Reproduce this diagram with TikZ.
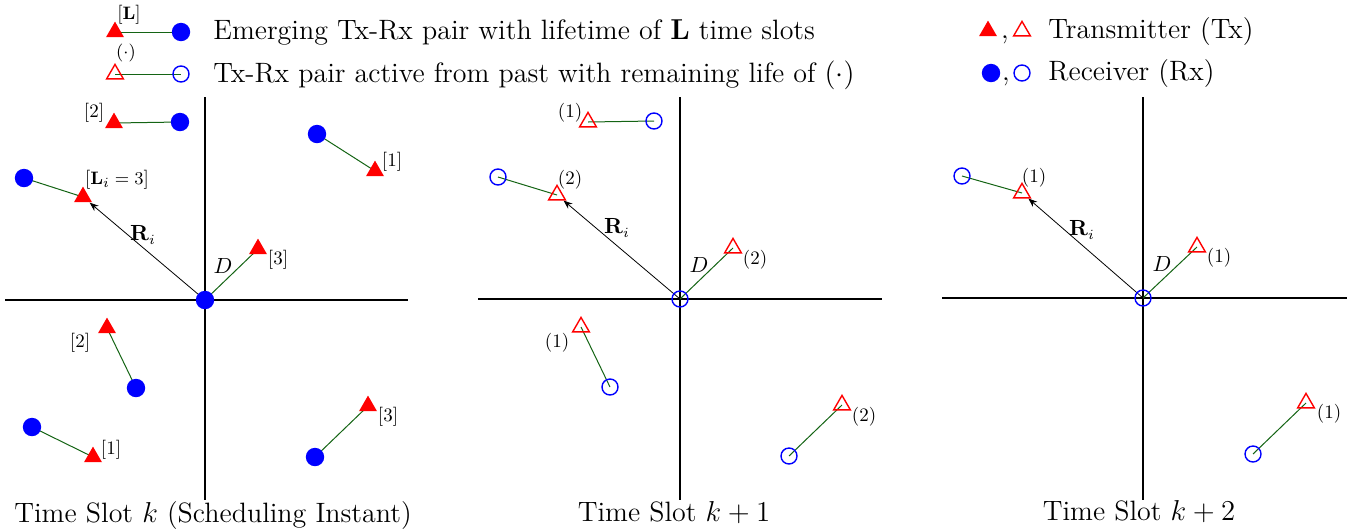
\documentclass[tikz,border=0pt]{standalone}
\usetikzlibrary{shapes.geometric,backgrounds,arrows.meta}
\definecolor{lnk}{RGB}{20,100,20}
\begin{document}
\begin{tikzpicture}[x=0.5pt,y=-0.5pt,
 rxf/.style={circle, fill=blue, minimum size=9.2pt, inner sep=0pt},
 rxo/.style={circle, draw=blue, line width=0.7pt, minimum size=8pt, inner sep=0pt},
 txf/.style={regular polygon, regular polygon sides=3, fill=red, minimum size=10.4pt, inner sep=0pt},
 txo/.style={regular polygon, regular polygon sides=3, draw=red, line width=0.7pt, minimum size=9.6pt, inner sep=0pt},
 link/.style={draw=lnk, line width=0.5pt},
 axisline/.style={line width=1.1pt},
 lbl/.style={font=\fontsize{9.5}{11}\selectfont, inner sep=0pt},
 vlbl/.style={font=\fontsize{10.5}{12}\selectfont, inner sep=0pt},
 txt/.style={font=\fontsize{14}{16}\selectfont, inner sep=0pt},
 rvec/.style={-{Stealth[length=4.5pt,width=3.4pt]}, line width=0.4pt}]
\useasboundingbox (0,0) rectangle (1364,531);
% ---------- legend ----------
\node[txf] (lt1) at (115,32) {};
\node[rxf] (lr1) at (181,32) {};
\node[lbl] (llL) at (129,15) {[$\mathbf{L}$]};
\node[txo] (lt2) at (115,74) {};
\node[rxo] (lr2) at (181,74) {};
\node[lbl] (llD) at (126,53) {$(\cdot)$};
\node[txt, anchor=base west] (leg1) at (213,39) {Emerging Tx-Rx pair with lifetime of $\mathbf{L}$ time slots};
\node[txt, anchor=base west] (leg2) at (213,82) {Tx-Rx pair active from past with remaining life of $(\cdot)$};
\node[txf] (rt1) at (988,31) {};
\node[txt, anchor=base] (cm1) at (1005,38) {,};
\node[txo] (rt2) at (1022,31) {};
\node[txt, anchor=base west] (leg3) at (1048,38) {Transmitter (Tx)};
\node[rxf] (rc1) at (991,73) {};
\node[txt, anchor=base] (cm2) at (1006,80) {,};
\node[rxo] (rc2) at (1022,73) {};
\node[txt, anchor=base west] (leg4) at (1048,80) {Receiver (Rx)};
% ---------- panel 1 ----------
\node[rxf] (o1) at (205,300) {};
\node[txf] (a1t) at (114,123) {}; \node[rxf] (a1r) at (180,122) {}; \node[lbl] (a1l) at (94,113) {[2]};
\node[rxf] (b1r) at (317,134) {}; \node[txf] (b1t) at (375,171) {}; \node[lbl] (b1l) at (392,162) {[1]};
\node[rxf] (c1r) at (24,178) {}; \node[txf] (c1t) at (83,197) {}; \node[lbl] (c1l) at (117,180) {[$\mathbf{L}_i=3$]};
\node[txf] (d1t) at (258,249) {}; \node[vlbl] (d1D) at (223,266) {$D$}; \node[lbl] (d1l) at (278,260) {[3]};
\node[vlbl] (r1l) at (143,235) {$\mathbf{R}_i$};
\node[txf] (e1t) at (107,328) {}; \node[rxf] (e1r) at (136,388) {}; \node[lbl] (e1l) at (80,343) {[2]};
\node[rxf] (f1r) at (32,427) {}; \node[txf] (f1t) at (93,457) {}; \node[lbl] (f1l) at (111,450) {[1]};
\node[txf] (g1t) at (368,406) {}; \node[rxf] (g1r) at (315,457) {}; \node[lbl] (g1l) at (388,417) {[3]};
\node[txt, anchor=base] (cap1) at (213,522) {Time Slot $k$ (Scheduling Instant)};
% ---------- panel 2 ----------
\node[rxo] (o2) at (680,299) {};
\node[txo] (a2t) at (588,122) {}; \node[rxo] (a2r) at (654,121) {}; \node[lbl] (a2l) at (570,113) {(1)};
\node[rxo] (c2r) at (498,177) {}; \node[txo] (c2t) at (557,195) {}; \node[lbl] (c2l) at (570,180) {(2)};
\node[vlbl] (r2l) at (617,228) {$\mathbf{R}_i$};
\node[txo] (d2t) at (733,248) {}; \node[vlbl] (d2D) at (699,265) {$D$}; \node[lbl] (d2l) at (755,260) {(2)};
\node[txo] (e2t) at (581,327) {}; \node[rxo] (e2r) at (610,387) {}; \node[lbl] (e2l) at (557,343) {(1)};
\node[txo] (g2t) at (842,405) {}; \node[rxo] (g2r) at (789,456) {}; \node[lbl] (g2l) at (864,417) {(2)};
\node[txt, anchor=base] (cap2) at (674,521) {Time Slot $k+1$};
% ---------- panel 3 ----------
\node[rxo] (o3) at (1143,298) {};
\node[rxo] (c3r) at (962,176) {}; \node[txo] (c3t) at (1022,193) {}; \node[lbl] (c3l) at (1034,178) {(1)};
\node[vlbl] (r3l) at (1082,230) {$\mathbf{R}_i$};
\node[txo] (d3t) at (1197,247) {}; \node[vlbl] (d3D) at (1162,264) {$D$}; \node[lbl] (d3l) at (1219,258) {(1)};
\node[txo] (g3t) at (1306,403) {}; \node[rxo] (g3r) at (1253,454) {}; \node[lbl] (g3l) at (1329,414) {(1)};
\node[txt, anchor=base] (cap3) at (1139,520) {Time Slot $k+2$};
% ---------- background: axes, links ----------
\begin{pgfonlayer}{background}
\draw[axisline] (5,300) -- (408,300);
\draw[axisline] (205,97) -- (205,500);
\draw[axisline] (478,299) -- (882,299);
\draw[axisline] (680,97) -- (680,500);
\draw[axisline] (942,298) -- (1347,298);
\draw[axisline] (1143,97) -- (1143,500);
\foreach \t/\r in {lt1/lr1,lt2/lr2,a1t/a1r,b1t/b1r,c1t/c1r,e1t/e1r,f1t/f1r,g1t/g1r,
                   a2t/a2r,c2t/c2r,e2t/e2r,g2t/g2r,c3t/c3r,g3t/g3r,
                   o1/d1t,o2/d2t,o3/d3t}
  \draw[link] (\t.center) -- (\r.center);
\draw[rvec] (o1.center) -- (c1t);
\draw[rvec] (o2.center) -- (c2t);
\draw[rvec] (o3.center) -- (c3t);
\end{pgfonlayer}
\end{tikzpicture}
\end{document}
